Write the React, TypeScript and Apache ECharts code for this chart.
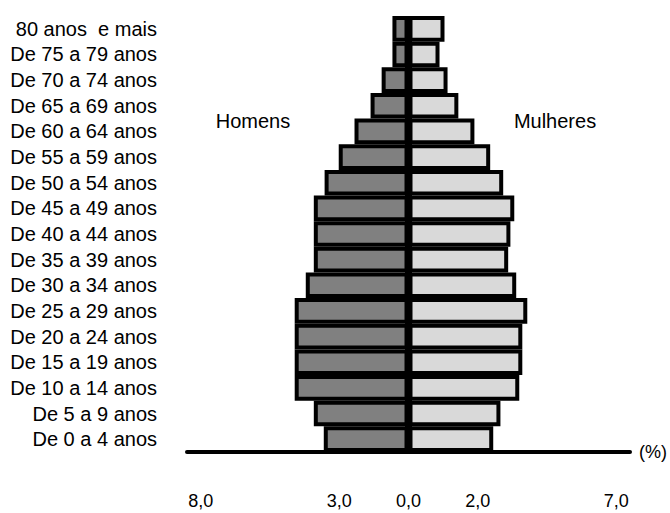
import React, { useEffect, useRef } from "react";
import * as echarts from "echarts";

const ageGroups = [
  "De 0 a 4 anos",
  "De 5 a 9 anos",
  "De 10 a 14 anos",
  "De 15 a 19 anos",
  "De 20 a 24 anos",
  "De 25 a 29 anos",
  "De 30 a 34 anos",
  "De 35 a 39 anos",
  "De 40 a 44 anos",
  "De 45 a 49 anos",
  "De 50 a 54 anos",
  "De 55 a 59 anos",
  "De 60 a 64 anos",
  "De 65 a 69 anos",
  "De 70 a 74 anos",
  "De 75 a 79 anos",
  "80 anos  e mais",
];

const homens = [3.06, 3.42, 4.11, 4.11, 4.11, 4.11, 3.71, 3.42, 3.42, 3.42, 3.03, 2.52, 1.95, 1.37, 0.97, 0.58, 0.58];
const mulheres = [3.06, 3.32, 4.0, 4.11, 4.11, 4.29, 3.89, 3.6, 3.68, 3.82, 3.42, 2.95, 2.38, 1.8, 1.41, 1.12, 1.3];

const tickValues = [-7.5, -2.5, 0, 2.5, 7.5];
const tickTexts = ["8,0", "3,0", "0,0", "2,0", "7,0"];

const FONT = "'Liberation Sans', Arial, Helvetica, sans-serif";

export default function App() {
  const ref = useRef<HTMLDivElement>(null);
  useEffect(() => {
    if (!ref.current) return;
    const chart = echarts.init(ref.current, undefined, { renderer: "svg" });
    chart.setOption({
      animation: false,
      backgroundColor: "#ffffff",
      textStyle: { fontFamily: FONT },
      grid: { left: 187, right: 39, top: 16, bottom: 61, containLabel: false },
      xAxis: {
        type: "value",
        min: -8,
        max: 8,
        interval: 0.5,
        name: "(%)",
        nameLocation: "end",
        nameGap: 9,
        nameTextStyle: { fontSize: 18, color: "#000", fontFamily: FONT, verticalAlign: "middle" },
        splitLine: { show: false },
        axisTick: { show: false },
        axisLine: { show: true, onZero: false, lineStyle: { color: "#000", width: 4, cap: "round" } },
        axisLabel: {
          margin: 40,
          fontSize: 18,
          color: "#000",
          fontFamily: FONT,
          formatter: (v: number) => {
            const i = tickValues.findIndex((t) => Math.abs(t - v) < 1e-6);
            return i >= 0 ? tickTexts[i] : "";
          },
        },
      },
      yAxis: {
        type: "category",
        data: ageGroups,
        axisLine: { show: false },
        axisTick: { show: false },
        axisLabel: { interval: 0, margin: 30, fontSize: 20, lineHeight: 22, color: "#000", fontFamily: FONT },
      },
      graphic: [
        {
          type: "text",
          x: 253,
          y: 121,
          style: { text: "Homens", fontSize: 20, fill: "#000", fontFamily: FONT, textAlign: "center", textVerticalAlign: "middle" },
        },
        {
          type: "text",
          x: 555,
          y: 121,
          style: { text: "Mulheres", fontSize: 20, fill: "#000", fontFamily: FONT, textAlign: "center", textVerticalAlign: "middle" },
        },
      ],
      series: [
        {
          name: "Homens",
          type: "bar",
          data: homens.map((v) => -v),
          barGap: "-100%",
          barCategoryGap: "0%",
          itemStyle: { color: "#808080", borderColor: "#000", borderWidth: 4 },
        },
        {
          name: "Mulheres",
          type: "bar",
          data: mulheres,
          barGap: "-100%",
          barCategoryGap: "0%",
          itemStyle: { color: "#d9d9d9", borderColor: "#000", borderWidth: 4 },
          markLine: {
            silent: true,
            symbol: "none",
            label: { show: false },
            lineStyle: { color: "#000", width: 7, type: "solid" },
            data: [{ xAxis: 0 }],
          },
        },
      ],
    });
    return () => chart.dispose();
  }, []);
  return <div ref={ref} style={{ position: "fixed", left: 0, top: 0, width: 670, height: 513 }} />;
}
